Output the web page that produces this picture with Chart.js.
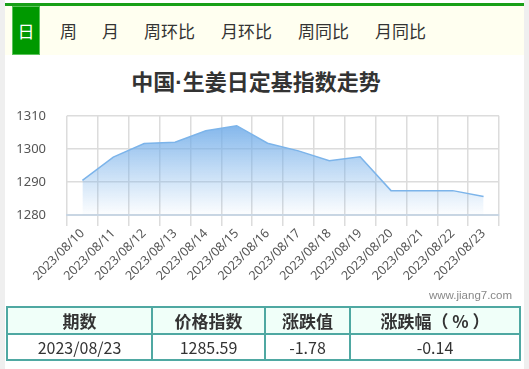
<!DOCTYPE html>
<html>
<head>
<meta charset="utf-8">
<script src="https://cdn.jsdelivr.net/npm/chart.js@4"></script>
<style>
  body { margin: 0; width: 529px; height: 369px; background: #fff; position: relative; overflow: hidden;
         font-family: "Microsoft YaHei", "Noto Sans CJK SC", sans-serif; color: #333; }
  .strip { position: absolute; top: 0; bottom: 0; width: 5px; background: #efefef; }
  .topline { position: absolute; left: 5px; width: 519px; top: 3px; height: 3px; background: #18a018; }
  .tabs { position: absolute; left: 5px; width: 519px; top: 6px; height: 49px; background: #fffff0; }
  .tab { position: absolute; top: 0; height: 49px; line-height: 50px; font-size: 17px; color: #333; }
  .tab.on { left: 7px; width: 28px; background: #009900; color: #fff; text-align: center;
            box-shadow: inset 0 0 0 1px #5cc45c; }
  .title { position: absolute; left: 0; width: 512px; top: 64px; text-align: center;
           font-size: 22px; font-weight: bold; color: #333; }
  .title .dot { font-family: "Liberation Sans", sans-serif; }
  #wrap { position: absolute; left: 0; top: 87px; width: 529px; height: 213px; }
  .mark { position: absolute; left: 429px; top: 289px; font-size: 11.5px; color: #888;
          font-family: "Liberation Sans", sans-serif; }
  table { position: absolute; left: 6px; top: 306px; width: 515px; border-collapse: collapse; }
  td, th { border: 2px solid #4fa8a2; text-align: center; padding: 0; color: #333; }
  th { height: 25px; background: #f0fff9; font-size: 17px; font-weight: bold; }
  td { height: 24px; font-size: 16px; }
</style>
</head>
<body>
<div class="strip" style="left:0"></div>
<div class="strip" style="left:524px"></div>
<div class="topline"></div>
<div class="tabs">
  <div class="tab on">日</div>
  <div class="tab" style="left:55px">周</div>
  <div class="tab" style="left:97px">月</div>
  <div class="tab" style="left:139px">周环比</div>
  <div class="tab" style="left:216px">月环比</div>
  <div class="tab" style="left:293px">周同比</div>
  <div class="tab" style="left:370px">月同比</div>
</div>
<div class="title">中国<span class="dot">·</span>生姜日定基指数走势</div>
<div id="wrap"><canvas id="chart"></canvas></div>
<div class="mark">www.jiang7.com</div>
<table>
  <tr><th style="width:143px">期数</th><th style="width:111px">价格指数</th><th style="width:83px">涨跌值</th><th>涨跌幅（ % ）</th></tr>
  <tr><td>2023/08/23</td><td>1285.59</td><td>-1.78</td><td>-0.14</td></tr>
</table>

<script>
// 日期和指数
const dates = ['2023/08/10', '2023/08/11', '2023/08/12', '2023/08/13', '2023/08/14', '2023/08/15', '2023/08/16',
  '2023/08/17', '2023/08/18', '2023/08/19', '2023/08/20', '2023/08/21', '2023/08/22', '2023/08/23'];
const indexValues = [1290.5, 1297.5, 1301.6, 1302.0, 1305.5, 1307.0, 1301.7,
  1299.4, 1296.4, 1297.6, 1287.37, 1287.37, 1287.37, 1285.59];
const yTicks = [1280, 1290, 1300, 1310];

const ctx = document.getElementById('chart');

new Chart(ctx, {
  type: 'line',
  data: {
    labels: dates,
    datasets: [{
      data: indexValues,
      borderColor: '#7cb4ea',
      borderWidth: 1.5,
      pointRadius: 0,
      tension: 0,
      fill: 'start',
      backgroundColor: (c) => {
        const area = c.chart.chartArea;
        if (!area) return 'rgba(124,180,234,0.5)';
        const g = c.chart.ctx.createLinearGradient(0, area.top, 0, area.bottom);
        g.addColorStop(0, 'rgba(110,170,232,0.95)');
        g.addColorStop(1, 'rgba(124,180,234,0.02)');
        return g;
      }
    }]
  },
  options: {
    responsive: true,
    maintainAspectRatio: false,
    animation: false,
    layout: { padding: { top: 3, right: 30, left: 0, bottom: 0 } },
    plugins: { legend: { display: false }, tooltip: { enabled: false } },
    scales: {
      x: {
        offset: true,
        grid: { offset: true, color: '#dcdcdc', lineWidth: 1.5, tickLength: 11 },
        border: { color: '#c9d6e3', width: 2 },
        ticks: {
          minRotation: 45, maxRotation: 45, autoSkip: false, padding: 0,
          color: '#555', font: { size: 12.5, family: '"Microsoft YaHei", "Noto Sans", sans-serif' }
        },
        afterFit: (s) => { s.height = 85; }
      },
      y: {
        min: 1280, max: 1310,
        afterBuildTicks: (s) => { s.ticks = yTicks.map(v => ({ value: v })); },
        grid: { color: '#dcdcdc', lineWidth: 1.5, drawTicks: false },
        border: { display: false },
        ticks: {
          padding: 21, color: '#555',
          font: { size: 13, family: '"Microsoft YaHei", "Noto Sans", sans-serif' },
          callback: (v) => String(v)
        },
        afterFit: (s) => { s.width = 67; }
      }
    }
  }
});
</script>
</body>
</html>
